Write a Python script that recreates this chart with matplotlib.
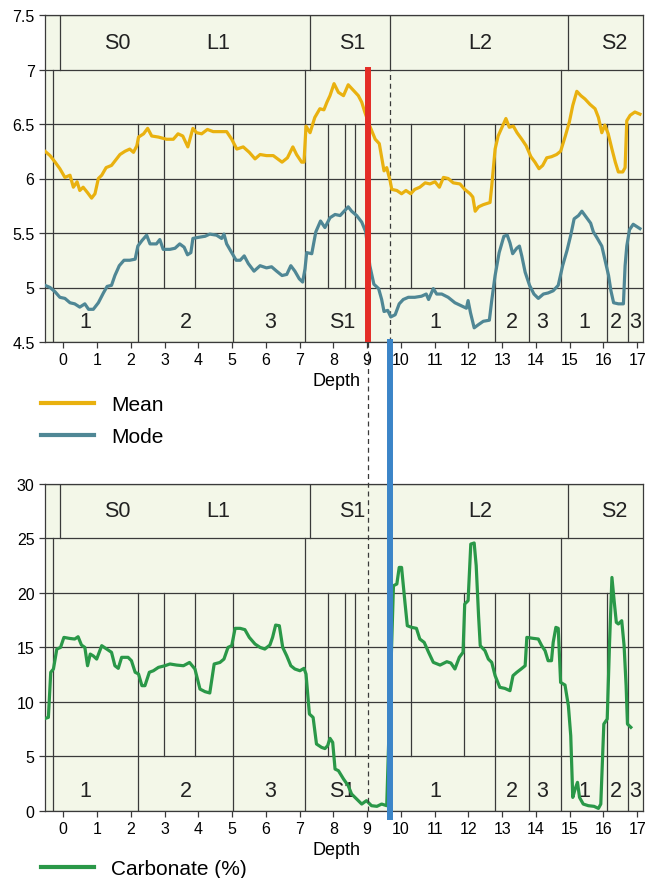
import matplotlib
matplotlib.use("Agg")
import matplotlib.pyplot as plt
from matplotlib.lines import Line2D

plt.rcParams['font.family'] = ['Liberation Sans', 'DejaVu Sans']

# ---- data ----
mean_depth = [-0.54, -0.39, -0.24, -0.10, 0.05, 0.20, 0.30, 0.41, 0.49, 0.59, 0.72, 0.84, 0.94, 1.04,
              1.14, 1.27, 1.43, 1.53, 1.68, 1.83, 1.97, 2.08, 2.18, 2.23, 2.38, 2.50, 2.62, 2.82,
              3.06, 3.26, 3.40, 3.54, 3.69, 3.84, 3.95, 4.10, 4.27, 4.44, 4.64, 4.84, 4.99, 5.14,
              5.33, 5.51, 5.68, 5.83, 6.02, 6.22, 6.48, 6.64, 6.80, 6.91, 7.06, 7.13, 7.19, 7.31,
              7.45, 7.60, 7.72, 7.81, 7.90, 8.02, 8.15, 8.30, 8.44, 8.59, 8.74, 8.84, 8.93, 9.08,
              9.24, 9.36, 9.50, 9.58, 9.68, 9.73, 9.88, 10.02, 10.15, 10.29, 10.41, 10.56, 10.72,
              10.86, 11.01, 11.14, 11.26, 11.40, 11.55, 11.75, 11.89, 12.05, 12.13, 12.20, 12.30,
              12.44, 12.64, 12.69, 12.79, 12.88, 13.01, 13.11, 13.21, 13.33, 13.44, 13.58, 13.71,
              13.85, 13.97, 14.09, 14.20, 14.32, 14.46, 14.61, 14.73, 14.87, 14.99, 15.09, 15.21,
              15.33, 15.45, 15.60, 15.75, 15.85, 15.95, 16.04, 16.14, 16.25, 16.35, 16.44, 16.57,
              16.64, 16.69, 16.79, 16.93, 17.08]
mean_val = [6.25, 6.21, 6.15, 6.09, 6.01, 6.03, 5.92, 5.97, 5.89, 5.92, 5.87, 5.82, 5.86, 6.00,
            6.03, 6.10, 6.12, 6.16, 6.22, 6.25, 6.27, 6.24, 6.30, 6.38, 6.41, 6.46, 6.39, 6.38,
            6.36, 6.36, 6.41, 6.39, 6.29, 6.46, 6.42, 6.41, 6.45, 6.43, 6.43, 6.43, 6.36, 6.27,
            6.29, 6.24, 6.18, 6.22, 6.21, 6.21, 6.15, 6.19, 6.29, 6.22, 6.15, 6.15, 6.48, 6.42,
            6.56, 6.64, 6.63, 6.70, 6.76, 6.87, 6.79, 6.76, 6.86, 6.81, 6.76, 6.70, 6.61, 6.48,
            6.36, 6.32, 6.07, 6.10, 5.98, 5.90, 5.89, 5.86, 5.89, 5.86, 5.90, 5.92, 5.96,
            5.95, 5.97, 5.92, 6.01, 6.00, 5.96, 5.95, 5.90, 5.86, 5.83, 5.70, 5.74,
            5.76, 5.78, 5.93, 6.27, 6.39, 6.48, 6.55, 6.47, 6.48, 6.42, 6.36, 6.30,
            6.20, 6.15, 6.09, 6.12, 6.19, 6.20, 6.22, 6.25, 6.39, 6.52, 6.67, 6.80,
            6.76, 6.73, 6.68, 6.64, 6.56, 6.42, 6.49, 6.41, 6.27, 6.15, 6.06, 6.06,
            6.10, 6.53, 6.58, 6.61, 6.59]

mode_depth = [-0.54, -0.39, -0.24, -0.10, 0.05, 0.20, 0.34, 0.49, 0.64, 0.75, 0.89, 1.04, 1.19,
              1.30, 1.43, 1.53, 1.66, 1.80, 1.97, 2.13, 2.21, 2.33, 2.47, 2.57, 2.76, 2.86, 2.96,
              3.16, 3.31, 3.45, 3.58, 3.68, 3.78, 3.84, 4.00, 4.20, 4.34, 4.54, 4.69, 4.76, 4.84,
              4.99, 5.12, 5.24, 5.36, 5.48, 5.65, 5.83, 6.02, 6.17, 6.32, 6.48, 6.62, 6.74, 6.86,
              6.99, 7.09, 7.16, 7.21, 7.36, 7.48, 7.62, 7.75, 7.90, 8.05, 8.20, 8.32, 8.44, 8.54,
              8.69, 8.84, 8.96, 9.08, 9.20, 9.34, 9.43, 9.50, 9.61, 9.70, 9.83, 9.95, 10.07, 10.22,
              10.41, 10.61, 10.75, 10.82, 10.96, 11.06, 11.21, 11.40, 11.60, 11.80, 11.94, 11.99,
              12.06, 12.17, 12.30, 12.44, 12.62, 12.69, 12.79, 12.91, 13.05, 13.15, 13.23, 13.31,
              13.43, 13.51, 13.58, 13.68, 13.81, 13.94, 14.07, 14.22, 14.36, 14.51, 14.66, 14.79,
              14.92, 15.03, 15.13, 15.26, 15.36, 15.50, 15.62, 15.70, 15.82, 15.95, 16.04, 16.15,
              16.22, 16.30, 16.44, 16.59, 16.64, 16.69, 16.77, 16.88, 16.98, 17.08]
mode_val = [5.02, 5.00, 4.96, 4.91, 4.90, 4.86, 4.85, 4.82, 4.85, 4.80, 4.80, 4.86, 4.95,
            5.01, 5.02, 5.11, 5.20, 5.25, 5.25, 5.26, 5.38, 5.43, 5.48, 5.40, 5.40, 5.44, 5.35,
            5.35, 5.36, 5.40, 5.37, 5.30, 5.32, 5.45, 5.46, 5.47, 5.49, 5.48, 5.45, 5.49, 5.40,
            5.32, 5.25, 5.25, 5.29, 5.22, 5.15, 5.20, 5.18, 5.19, 5.15, 5.11, 5.12, 5.20, 5.15,
            5.08, 5.05, 5.17, 5.32, 5.31, 5.51, 5.61, 5.55, 5.64, 5.67, 5.66, 5.70, 5.74, 5.70,
            5.66, 5.60, 5.51, 5.20, 5.03, 4.99, 4.89, 4.78, 4.79, 4.73, 4.75, 4.85, 4.89, 4.91,
            4.91, 4.92, 4.94, 4.89, 4.99, 4.94, 4.94, 4.91, 4.86, 4.83, 4.81, 4.88,
            4.77, 4.63, 4.66, 4.69, 4.70, 4.88, 5.11, 5.32, 5.47, 5.48, 5.41, 5.31,
            5.36, 5.38, 5.29, 5.14, 5.02, 4.94, 4.90, 4.94, 4.95, 4.97, 5.02, 5.20,
            5.34, 5.48, 5.63, 5.66, 5.70, 5.64, 5.59, 5.51, 5.45, 5.38, 5.26, 5.11,
            4.97, 4.86, 4.85, 4.85, 5.20, 5.38, 5.53, 5.58, 5.56, 5.54]

carb_depth = [-0.59, -0.44, -0.37, -0.29, -0.19, -0.08, 0.02, 0.20, 0.34, 0.44, 0.54, 0.64, 0.72,
              0.80, 0.89, 0.99, 1.14, 1.29, 1.43, 1.53, 1.63, 1.73, 1.92, 2.02, 2.13, 2.23, 2.33,
              2.42, 2.55, 2.67, 2.82, 3.01, 3.16, 3.36, 3.56, 3.74, 3.90, 4.05, 4.20, 4.34, 4.47,
              4.64, 4.76, 4.88, 4.99, 5.09, 5.24, 5.38, 5.51, 5.68, 5.83, 5.97, 6.12, 6.20, 6.29,
              6.40, 6.50, 6.62, 6.74, 6.86, 7.01, 7.13, 7.19, 7.29, 7.40, 7.50, 7.65, 7.75, 7.83,
              7.90, 7.98, 8.05, 8.15, 8.30, 8.44, 8.54, 8.69, 8.84, 8.98, 9.13, 9.29, 9.43, 9.58,
              9.78, 9.88, 9.95, 10.02, 10.12, 10.19, 10.32, 10.46, 10.56, 10.69, 10.82, 10.96,
              11.16, 11.36, 11.48, 11.60, 11.73, 11.84, 11.89, 11.99, 12.07, 12.17, 12.23, 12.30,
              12.35, 12.49, 12.59, 12.69, 12.79, 12.93, 13.08, 13.23, 13.32, 13.43, 13.56, 13.68,
              13.73, 13.92, 14.07, 14.17, 14.27, 14.36, 14.46, 14.51, 14.59, 14.66, 14.73, 14.86,
              14.96, 15.03, 15.09, 15.16, 15.23, 15.29, 15.40, 15.55, 15.72, 15.85, 15.92, 15.98,
              16.01, 16.11, 16.18, 16.25, 16.32, 16.38, 16.44, 16.54, 16.61, 16.67, 16.71, 16.81]
carb_val = [8.41, 8.56, 12.7, 13.0, 14.83, 14.98, 15.9, 15.8, 15.75, 15.96, 15.2, 14.98, 13.3,
            14.37, 14.2, 13.91, 15.14, 14.83, 14.53, 13.3, 13.06, 14.07, 14.07, 13.76, 12.7, 12.54, 11.47,
            11.47, 12.7, 12.84, 13.15, 13.3, 13.46, 13.36, 13.3, 13.6, 13.0, 11.16, 10.92, 10.8, 13.46,
            13.6, 13.91, 14.98, 15.14, 16.73, 16.73, 16.61, 15.9, 15.29, 14.98, 14.83, 15.2, 15.9, 17.03,
            16.97, 14.98, 14.2, 13.3, 13.0, 12.84, 13.06, 12.54, 8.87, 8.56, 6.12, 5.81, 5.7, 5.96,
            6.64, 6.27, 3.82, 3.67, 2.91, 2.29, 1.53, 1.07, 0.61, 0.92, 0.46, 0.40, 0.61, 0.46,
            20.64, 20.8, 22.32, 22.32, 19.11, 16.97, 16.82, 16.73, 15.75, 15.44, 14.53, 13.61,
            13.36, 13.67, 13.55, 13.0, 14.07, 14.53, 18.96, 19.27, 24.46, 24.56, 22.48, 17.89,
            15.14, 14.68, 13.91, 13.61, 12.39, 11.32, 11.22, 11.01, 12.39, 12.69, 13.0, 13.3,
            15.9, 15.81, 15.75, 15.14, 14.68, 13.76, 13.76, 15.44, 16.82, 16.73, 11.77, 11.53,
            9.63, 6.88, 1.22, 1.99, 2.6, 1.22, 0.61, 0.46, 0.40, 0.21, 0.61, 5.35,
            7.95, 8.41, 15.44, 21.4, 19.11, 17.28, 17.13, 17.43, 15.14, 11.47, 7.95, 7.65]

# stratigraphic table
unit_edges = [-0.10, 7.30, 9.67, 14.96]
unit_names = ['S0', 'L1', 'S1', 'L2', 'S2']
unit_pos = [1.61, 4.58, 8.56, 12.34, 16.32]
full_lines = [-0.30, 7.17, 14.73]
long_lines = [2.20, 5.02, 12.78, 13.80, 16.11, 16.73]
short_lines = [2.98, 3.89, 7.84, 8.35, 8.64, 10.29, 11.87]
sub_names = ['1', '2', '3', 'S1', '1', '2', '3', '1', '2', '3']
sub_pos = [0.64, 3.63, 6.12, 8.25, 11.01, 13.28, 14.17, 15.44, 16.37, 16.94]

red_depth = 9.04
blue_depth = 9.67

GRID = '#3a3a3a'
BG = '#f3f7e8'
C_MEAN = '#e9b10f'
C_MODE = '#4f8795'
C_CARB = '#2a9848'


def draw_frame(ax, ylim, yticks):
    ax.set_facecolor(BG)
    ax.set_xlim(-0.54, 17.17)
    ax.set_ylim(*ylim)
    ax.set_xticks(range(0, 18))
    ax.set_yticks(yticks)
    ax.set_yticklabels([f"{v:g}" for v in yticks])
    ax.tick_params(direction='out', length=4, width=0.9, color=GRID,
                   labelsize=11.5, pad=3.5)
    for s in ax.spines.values():
        s.set_color(GRID)
        s.set_linewidth(0.9)
    ax.grid(axis='y', color=GRID, linewidth=0.9, zorder=1)
    ax.set_axisbelow(True)

    for x in unit_edges:
        ax.axvline(x, ymin=5/6, ymax=1, color=GRID, lw=0.9, zorder=1)
    for x in full_lines:
        ax.axvline(x, ymin=0, ymax=5/6, color=GRID, lw=0.9, zorder=1)
    for x in long_lines:
        ax.axvline(x, ymin=0, ymax=4/6, color=GRID, lw=0.9, zorder=1)
    for x in short_lines:
        ax.axvline(x, ymin=1/6, ymax=4/6, color=GRID, lw=0.9, zorder=1)

    lo, hi = ylim
    h = hi - lo
    for name, x in zip(unit_names, unit_pos):
        ax.text(x, lo + h * 11 / 12, name, ha='center', va='center',
                fontsize=15.5, color='#222222', zorder=2)
    for name, x in zip(sub_names, sub_pos):
        ax.text(x, lo + h * 0.062, name, ha='center', va='center',
                fontsize=15.5, color='#222222', zorder=2)

    ax.set_xlabel('Depth', fontsize=13, va='center')
    ax.xaxis.set_label_coords(0.487, -0.118)


fig = plt.figure(figsize=(6.47, 8.79), dpi=100)
ax1 = fig.add_axes([45/647, 1 - 343/879, 598/647, 327/879])
ax2 = fig.add_axes([45/647, 1 - 811.7/879, 598/647, 327/879])

draw_frame(ax1, (4.5, 7.5), [4.5, 5, 5.5, 6, 6.5, 7, 7.5])
draw_frame(ax2, (0, 30), [0, 5, 10, 15, 20, 25, 30])

# top panel curves
ax1.plot(mean_depth, mean_val, color=C_MEAN, lw=2.3, zorder=3)
ax1.plot(mode_depth, mode_val, color=C_MODE, lw=2.3, zorder=3)
ax1.axvline(blue_depth, ymin=0, ymax=5/6, color=GRID, lw=0.9, ls=(0, (4, 3)), zorder=1)
ax1.axvline(red_depth, ymin=0, ymax=5/6, color='#e42d26', lw=4.3, zorder=5)

# bottom panel curve
ax2.plot(carb_depth, carb_val, color=C_CARB, lw=2.3, zorder=3)
gap_top = 1 + 141.7 / 327
ax2.axvline(red_depth, ymin=0, ymax=gap_top, color=GRID, lw=0.9, ls=(0, (4, 3)),
            zorder=4, clip_on=False)
ax2.axvline(blue_depth, ymin=-0.02, ymax=gap_top, color='#3b85c8', lw=4.3,
            zorder=5, clip_on=False)

# legends
h_mean = Line2D([], [], color=C_MEAN, lw=3)
h_mode = Line2D([], [], color=C_MODE, lw=3)
h_carb = Line2D([], [], color=C_CARB, lw=3)
fig.legend([h_mean, h_mode], ['Mean', 'Mode'], loc='upper left',
           bbox_to_anchor=(41/647, 1 - 396/879), frameon=False, fontsize=15,
           handlelength=2.55, handletextpad=0.8, borderpad=0, borderaxespad=0,
           labelspacing=0.62)
fig.legend([h_carb], ['Carbonate (%)'], loc='upper left',
           bbox_to_anchor=(41/647, 1 - 860/879), frameon=False, fontsize=15,
           handlelength=2.55, handletextpad=0.8, borderpad=0, borderaxespad=0)

fig.savefig('out.png', dpi=100)
